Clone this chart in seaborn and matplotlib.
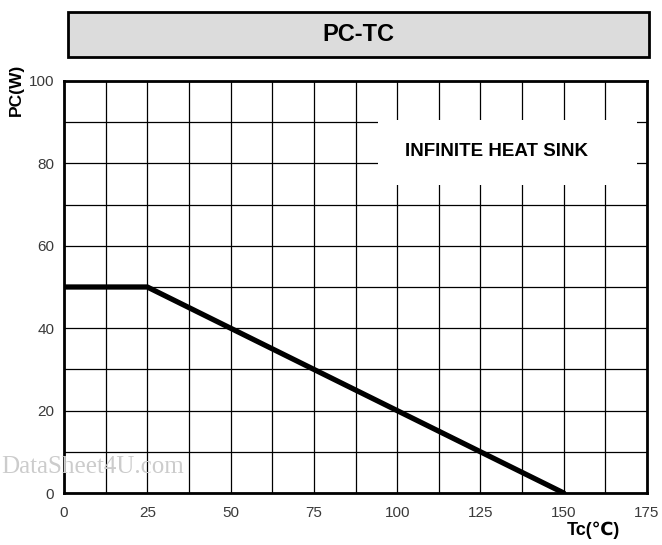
import numpy as np
import pandas as pd
import matplotlib
matplotlib.use("Agg")
import matplotlib.pyplot as plt
from matplotlib.patches import Rectangle
import seaborn as sns

# derating curve
tc = [0, 25, 150]
pc = [50, 50, 0]

x_ticks = [0, 25, 50, 75, 100, 125, 150, 175]
y_ticks = [0, 20, 40, 60, 80, 100]

sns.set_style("white")
plt.rcParams["font.family"] = ["Liberation Sans", "DejaVu Sans"]
plt.rcParams["text.color"] = "black"

df = pd.DataFrame({"Tc": tc, "PC": pc})

fig = plt.figure(figsize=(6.62, 5.45), dpi=100)
ax = fig.add_axes([0.0967, 0.0954, 0.8807, 0.756])

ax.set_xlim(0, 175)
ax.set_ylim(0, 100)
ax.set_xticks(x_ticks)
ax.set_yticks(y_ticks)
ax.set_xticks(np.arange(0, 175.1, 12.5), minor=True)
ax.set_yticks(np.arange(0, 100.1, 10), minor=True)
ax.grid(which="both", color="black", linewidth=0.9, zorder=1)
ax.set_axisbelow(True)
ax.tick_params(which="both", length=0, labelsize=11, labelcolor="#3a3a3a")
ax.tick_params(axis="x", pad=9)
ax.tick_params(axis="y", pad=7)
for sp in ax.spines.values():
    sp.set_linewidth(2)
    sp.set_color("black")
    sp.set_zorder(5)

# white label box over the grid
ax.add_patch(Rectangle((94.3, 74.8), 77.7, 15.7, facecolor="white",
                       edgecolor="none", zorder=2))
ax.text(129.7, 83.0, "INFINITE HEAT SINK", ha="center", va="center",
        fontsize=13.5, fontweight="bold", zorder=3)

sns.lineplot(data=df, x="Tc", y="PC", ax=ax, color="black", linewidth=3.8,
             zorder=4)
ax.set_xlabel("")
ax.set_ylabel("")

# title box
fig.patches.append(Rectangle((0.1027, 0.8954), 0.8777, 0.0826,
                             transform=fig.transFigure, facecolor="#dcdcdc",
                             edgecolor="black", linewidth=2))
fig.text(0.541, 0.936, "PC-TC", ha="center", va="center", fontsize=17,
         fontweight="bold")

fig.text(0.024, 0.835, "PC(W)", rotation=90, ha="center", va="center",
         fontsize=12.5, fontweight="bold")
fig.text(0.897, 0.027, "Tc(\u2103)", ha="center", va="center",
         fontsize=13, fontweight="bold")

fig.text(0.002, 0.143, "DataSheet4U.com", ha="left", va="center",
         fontsize=18, color="#cccccc", family="Liberation Serif")

fig.savefig("out.png", dpi=100)
